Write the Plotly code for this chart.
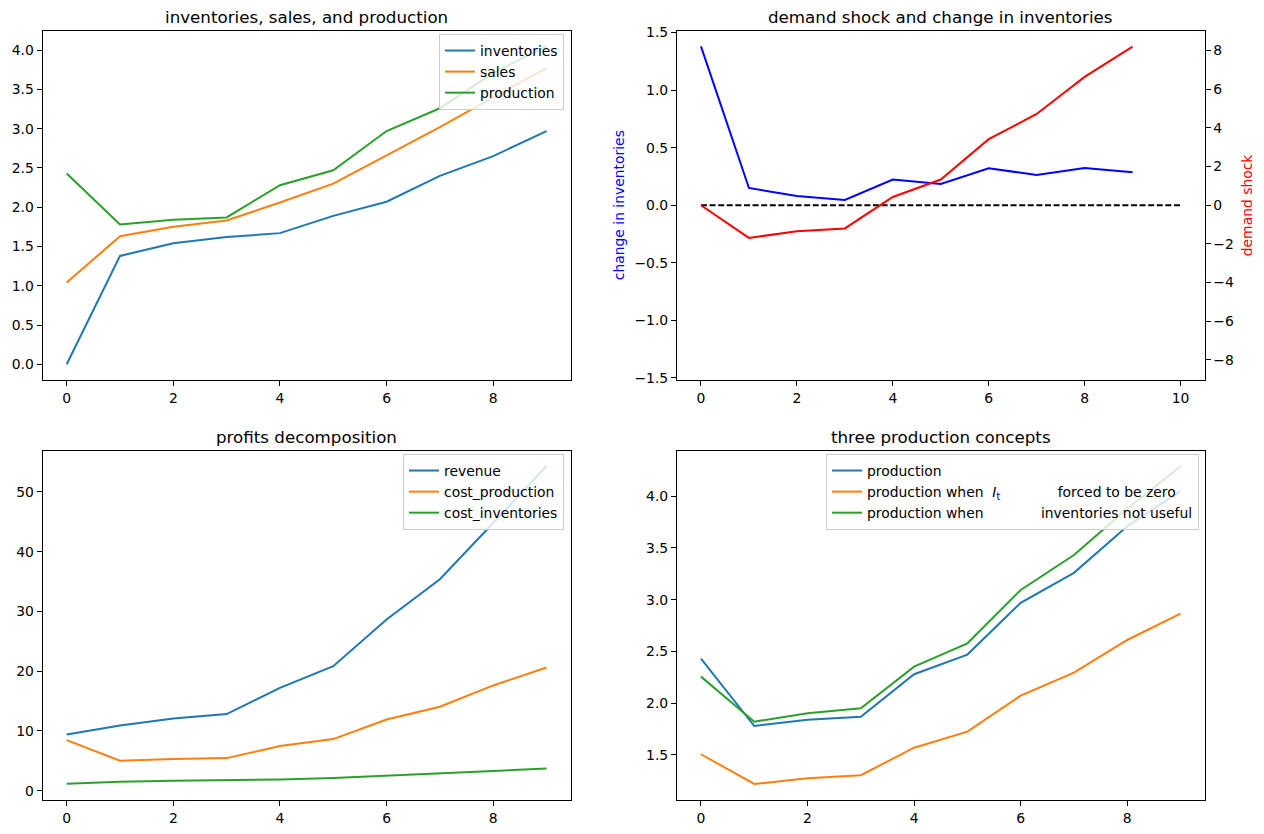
import plotly.graph_objects as go

# ---------------- data ----------------
t = list(range(10))
inventories = [0.0, 1.38, 1.54, 1.62, 1.67, 1.89, 2.07, 2.40, 2.65, 2.97]
sales = [1.04, 1.63, 1.75, 1.83, 2.06, 2.30, 2.66, 3.02, 3.40, 3.77]
production = [2.43, 1.78, 1.84, 1.87, 2.28, 2.47, 2.97, 3.26, 3.71, 4.05]

change_inventories = [1.38, 0.15, 0.08, 0.046, 0.223, 0.185, 0.321, 0.263, 0.324, 0.286]
demand_shock = [0.0, -1.69, -1.35, -1.20, 0.43, 1.33, 3.42, 4.72, 6.64, 8.21]
zero_x = [0, 10]
zero_y = [0, 0]

revenue = [9.41, 10.92, 12.09, 12.82, 17.22, 20.85, 28.65, 35.4, 44.8, 54.35]
cost_production = [8.47, 5.02, 5.30, 5.46, 7.47, 8.64, 11.93, 14.05, 17.62, 20.62]
cost_inventories = [1.17, 1.5, 1.67, 1.73, 1.9, 2.12, 2.5, 2.84, 3.29, 3.73]

production_zero_inv = [1.507, 1.22, 1.275, 1.304, 1.57, 1.725, 2.073, 2.295, 2.611, 2.865]
production_not_useful = [2.257, 1.822, 1.903, 1.951, 2.353, 2.579, 3.094, 3.432, 3.88, 4.29]

titles = ["inventories, sales, and production",
          "demand shock and change in inventories",
          "profits decomposition",
          "three production concepts"]

C1, C2, C3 = "#1f77b4", "#ff7f0e", "#2ca02c"
FONT = "DejaVu Sans"
OFF = 8  # page body margin
W, H = 1264 - OFF, 834 - OFF
NB = "\u00a0"


def px_x(p):
    return (p - OFF) / W


def px_y(p):
    return 1 - (p - OFF) / H


fig = go.Figure()
LW = 2

# top-left
fig.add_trace(go.Scatter(x=t, y=inventories, name="inventories", mode="lines",
                         line=dict(color=C1, width=LW), xaxis="x", yaxis="y", legend="legend"))
fig.add_trace(go.Scatter(x=t, y=sales, name="sales", mode="lines",
                         line=dict(color=C2, width=LW), xaxis="x", yaxis="y", legend="legend"))
fig.add_trace(go.Scatter(x=t, y=production, name="production", mode="lines",
                         line=dict(color=C3, width=LW), xaxis="x", yaxis="y", legend="legend"))

# top-right
fig.add_trace(go.Scatter(x=t, y=change_inventories, mode="lines", showlegend=False,
                         line=dict(color="blue", width=LW), xaxis="x2", yaxis="y2"))
fig.add_trace(go.Scatter(x=zero_x, y=zero_y, mode="lines", showlegend=False,
                         line=dict(color="black", width=LW, dash="6px,2.6px"), xaxis="x2", yaxis="y2"))
fig.add_trace(go.Scatter(x=t, y=demand_shock, mode="lines", showlegend=False,
                         line=dict(color="red", width=LW), xaxis="x2", yaxis="y3"))

# bottom-left
fig.add_trace(go.Scatter(x=t, y=revenue, name="revenue", mode="lines",
                         line=dict(color=C1, width=LW), xaxis="x3", yaxis="y4", legend="legend2"))
fig.add_trace(go.Scatter(x=t, y=cost_production, name="cost_production", mode="lines",
                         line=dict(color=C2, width=LW), xaxis="x3", yaxis="y4", legend="legend2"))
fig.add_trace(go.Scatter(x=t, y=cost_inventories, name="cost_inventories", mode="lines",
                         line=dict(color=C3, width=LW), xaxis="x3", yaxis="y4", legend="legend2"))

# bottom-right
fig.add_trace(go.Scatter(x=t, y=production, name="production", mode="lines",
                         line=dict(color=C1, width=LW), xaxis="x4", yaxis="y5", legend="legend3"))
fig.add_trace(go.Scatter(x=t, y=production_zero_inv,
                         name="production when " + NB + "<i>I</i><sub>t</sub>" + NB * 13 + "forced to be zero",
                         mode="lines", line=dict(color=C2, width=LW), xaxis="x4", yaxis="y5", legend="legend3"))
fig.add_trace(go.Scatter(x=t, y=production_not_useful,
                         name="production when" + NB * 13 + "inventories not useful",
                         mode="lines", line=dict(color=C3, width=LW), xaxis="x4", yaxis="y5", legend="legend3"))

tickfont = dict(family=FONT, size=13.9, color="black")
base = dict(showline=True, linecolor="black", linewidth=1.1, mirror=True, ticks="outside",
            ticklen=5, tickwidth=1.1, tickcolor="black", showgrid=False, zeroline=False,
            tickfont=tickfont, automargin=False)

L_left, L_right = px_x(42.7), px_x(570.5)
R_left, R_right = px_x(677), px_x(1204.5)
T_top, T_bot = px_y(30.5), px_y(380)
B_top, B_bot = px_y(451), px_y(800)

legend_common = dict(bgcolor="rgba(255,255,255,0.8)", bordercolor="#cccccc", borderwidth=1,
                     font=dict(family=FONT, size=13.9, color="black"), itemwidth=30,
                     xanchor="right", yanchor="top", tracegroupgap=0)

fig.update_layout(
    width=W, height=H, margin=dict(l=0, r=0, t=0, b=0, autoexpand=False),
    paper_bgcolor="white", plot_bgcolor="white",
    font=dict(family=FONT, color="black"),
    xaxis=dict(base, domain=[L_left, L_right], anchor="y", range=[-0.45, 9.45], tick0=0, dtick=2),
    yaxis=dict(base, domain=[T_bot, T_top], anchor="x", range=[-0.2, 4.25], tick0=0, dtick=0.5,
               tickformat=".1f"),
    xaxis2=dict(base, domain=[R_left, R_right], anchor="y2", range=[-0.5, 10.5], tick0=0, dtick=2),
    yaxis2=dict(base, domain=[T_bot, T_top], anchor="x2", range=[-1.518, 1.518], tick0=0,
                dtick=0.5, tickformat=".1f", mirror=False),
    yaxis3=dict(base, overlaying="y2", anchor="x2", side="right", range=[-9.04, 9.04],
                tick0=0, dtick=2, mirror=False),
    xaxis3=dict(base, domain=[L_left, L_right], anchor="y4", range=[-0.45, 9.45], tick0=0, dtick=2),
    yaxis4=dict(base, domain=[B_bot, B_top], anchor="x3", range=[-1.55, 56.85], tick0=0, dtick=10),
    xaxis4=dict(base, domain=[R_left, R_right], anchor="y5", range=[-0.45, 9.45], tick0=0, dtick=2),
    yaxis5=dict(base, domain=[B_bot, B_top], anchor="x4", range=[1.065, 4.437], tick0=0, dtick=0.5,
                tickformat=".1f"),
    legend=dict(legend_common, x=px_x(564), y=px_y(34)),
    legend2=dict(legend_common, x=px_x(564), y=px_y(454)),
    legend3=dict(legend_common, x=px_x(1199), y=px_y(454)),
)

annotations = []
centers = [((L_left + L_right) / 2, px_y(16.5)), ((R_left + R_right) / 2, px_y(16.5)),
           ((L_left + L_right) / 2, px_y(436.5)), ((R_left + R_right) / 2, px_y(436.5))]
for (cx, cy), ttl in zip(centers, titles):
    annotations.append(dict(text=ttl, x=cx, y=cy, xref="paper", yref="paper", showarrow=False,
                            xanchor="center", yanchor="middle",
                            font=dict(family=FONT, size=16.7, color="black")))
annotations.append(dict(text="change in inventories", x=px_x(619), y=(T_bot + T_top) / 2,
                        xref="paper", yref="paper", showarrow=False, textangle=-90,
                        xanchor="center", yanchor="middle",
                        font=dict(family=FONT, size=13.9, color="blue")))
annotations.append(dict(text="demand shock", x=px_x(1247), y=(T_bot + T_top) / 2,
                        xref="paper", yref="paper", showarrow=False, textangle=-90,
                        xanchor="center", yanchor="middle",
                        font=dict(family=FONT, size=13.9, color="red")))
fig.update_layout(annotations=annotations)

fig.write_html("out.html")
